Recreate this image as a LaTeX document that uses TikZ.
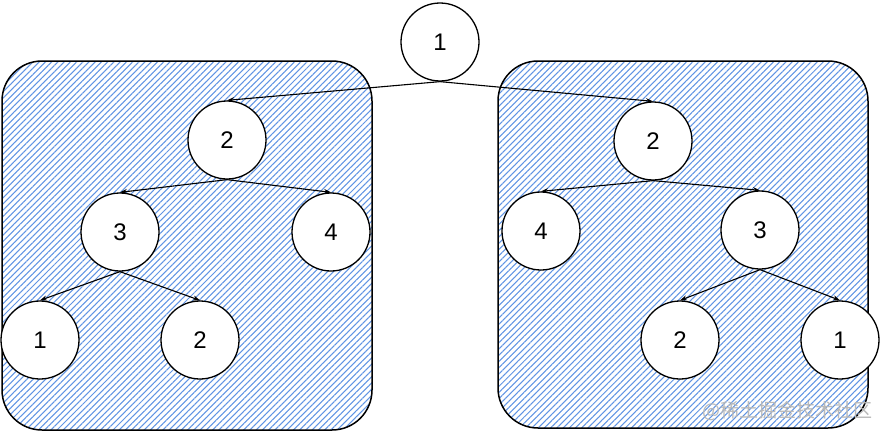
\documentclass[tikz,border=0pt]{standalone}
\usepackage{fontspec}
\setmainfont{Liberation Sans}
\newfontfamily\cjk{Noto Sans CJK SC}
\usetikzlibrary{patterns.meta,arrows.meta}
\definecolor{hatchblue}{RGB}{96,148,228}
\definecolor{wmgray}{RGB}{185,185,185}
\tikzset{
  treenode/.style={circle,draw=black,fill=white,line width=1.3pt,minimum size=78pt,inner sep=0pt,font=\fontsize{24}{28}\selectfont},
  hatchbox/.style={draw=black,line width=1.5pt,rounded corners=40pt,pattern={Lines[angle=45,distance=4.4pt,line width=1.05pt]},pattern color=hatchblue},
  edge/.style={draw=black,line width=1.1pt,-{Stealth[length=7pt,width=5pt,open]}}
}
\begin{document}
\begin{tikzpicture}[x=1pt,y=-1pt]
\useasboundingbox[fill=white] (0,0) rectangle (881,431);
\draw[hatchbox] (2,61) rectangle (372,430);
\draw[hatchbox] (498,61) rectangle (868,428);
\node[treenode] (r) at (440,42) {1};
\node[treenode] (l2) at (227,140) {2};
\node[treenode] (l3) at (120,232) {3};
\node[treenode] (l4) at (331,232) {4};
\node[treenode] (l1) at (40,340) {1};
\node[treenode] (l2b) at (200,340) {2};
\node[treenode] (r2) at (653,141) {2};
\node[treenode] (r4) at (541,231) {4};
\node[treenode] (r3) at (760,230) {3};
\node[treenode] (r2b) at (680,340) {2};
\node[treenode] (r1) at (840,340) {1};
\draw[edge] (r.south) -- (l2.north);
\draw[edge] (r.south) -- (r2.north);
\draw[edge] (l2.south) -- (l3.north);
\draw[edge] (l2.south) -- (l4.north);
\draw[edge] (l3.south) -- (l1.north);
\draw[edge] (l3.south) -- (l2b.north);
\draw[edge] (r2.south) -- (r4.north);
\draw[edge] (r2.south) -- (r3.north);
\draw[edge] (r3.south) -- (r2b.north);
\draw[edge] (r3.south) -- (r1.north);
\node[anchor=east,text=wmgray,font=\cjk\fontsize{19}{21}\selectfont,inner sep=0pt] (wm) at (873,411) {@稀土掘金技术社区};
\end{tikzpicture}
\end{document}
